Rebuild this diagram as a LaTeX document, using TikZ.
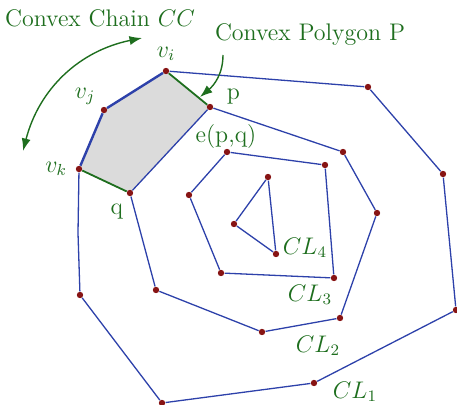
\documentclass[tikz,border=0pt]{standalone}
\usepackage{amsmath,amssymb}
\usepackage{tikz}
\usetikzlibrary{arrows.meta,positioning}

\definecolor{layerblue}{RGB}{45,65,170}
\definecolor{dotred}{RGB}{135,20,20}
\definecolor{labgreen}{RGB}{30,110,30}

\begin{document}
\begin{tikzpicture}[
    x=0.5pt, y=-0.5pt,
    pt/.style={circle, fill=dotred, inner sep=0pt, minimum size=3.2pt},
    layer/.style={draw=layerblue, line width=0.65pt, line join=round},
    chain/.style={draw=layerblue, line width=1.2pt, line join=round},
    gedge/.style={draw=labgreen, line width=0.9pt},
    lab/.style={text=labgreen, font=\large, inner sep=1pt},
    arrow/.style={-{Latex[length=2.2mm,width=1.6mm]}, draw=labgreen, line width=0.7pt}
]
\useasboundingbox (0,0) rectangle (457,405);

% convex polygon P
\fill[black!14] (166,71) -- (210,107) -- (130,193) -- (79,169) -- (104,110) -- cycle;

% layer CL1
\node[pt] (vi) at (166,71) {};
\node[pt] (vj) at (104,110) {};
\node[pt] (vk) at (79,169) {};
\node[pt] (a1) at (368,87) {};
\node[pt] (a2) at (443,174) {};
\node[pt] (a3) at (456,310) {};
\node[pt] (a4) at (314,383) {};
\node[pt] (a5) at (162,403) {};
\node[pt] (a6) at (80,295) {};
\coordinate (a7) at (78,233);

% layer CL2
\node[pt] (p) at (210,107) {};
\node[pt] (q) at (130,193) {};
\node[pt] (b1) at (343,152) {};
\node[pt] (b2) at (377,213) {};
\node[pt] (b3) at (340,318) {};
\node[pt] (b4) at (262,332) {};
\node[pt] (b5) at (156,290) {};

% layer CL3
\node[pt] (c1) at (227,152) {};
\node[pt] (c2) at (325,165) {};
\node[pt] (c3) at (334,278) {};
\node[pt] (c4) at (221,273) {};
\node[pt] (c5) at (189,195) {};

% layer CL4
\node[pt] (d1) at (268,177) {};
\node[pt] (d2) at (276,254) {};
\node[pt] (d3) at (234,224) {};

\draw[layer] (vi) -- (a1) -- (a2) -- (a3) -- (a4) -- (a5) -- (a6) -- (a7) -- (vk);
\draw[chain] (vk) -- (vj) -- (vi);
\draw[gedge] (vi) -- (p);
\draw[gedge] (vk) -- (q);
\draw[layer] (p) -- (b1) -- (b2) -- (b3) -- (b4) -- (b5) -- (q) -- (p);
\draw[layer] (c1) -- (c2) -- (c3) -- (c4) -- (c5) -- (c1);
\draw[layer] (d1) -- (d2) -- (d3) -- (d1);

% labels
\node[lab, above=2pt of vi] (lvi) {$v_i$};
\node[lab, above left=0pt and 2pt of vj] (lvj) {$v_j$};
\node[lab, left=3pt of vk] (lvk) {$v_k$};
\node[lab, above right=-1pt and 6pt of p] (lp) {p};
\node[lab, below left=3pt and 1pt of q] (lq) {q};
\node[lab] (epq) at (226,137) {e(p,q)};
\node[lab] (l4) at (305,248) {$CL_4$};
\node[lab] (l3) at (310,295) {$CL_3$};
\node[lab] (l2) at (318,346) {$CL_2$};
\node[lab] (l1) at (355,392) {$CL_1$};
\node[lab] (cc) at (100,18) {Convex Chain $CC$};
\node[lab] (cp) at (310,35) {Convex Polygon P};

% arrows
\coordinate (cca) at (142,38);
\coordinate (ccb) at (23,151);
\draw[arrow, {Latex[length=2.2mm,width=1.6mm]}-{Latex[length=2.2mm,width=1.6mm]}] (cca) to[bend right=32] (ccb);
\coordinate (cps) at (223,55);
\coordinate (cpe) at (200,97);
\draw[arrow] (cps) to[out=-90, in=40] (cpe);
\end{tikzpicture}
\end{document}
